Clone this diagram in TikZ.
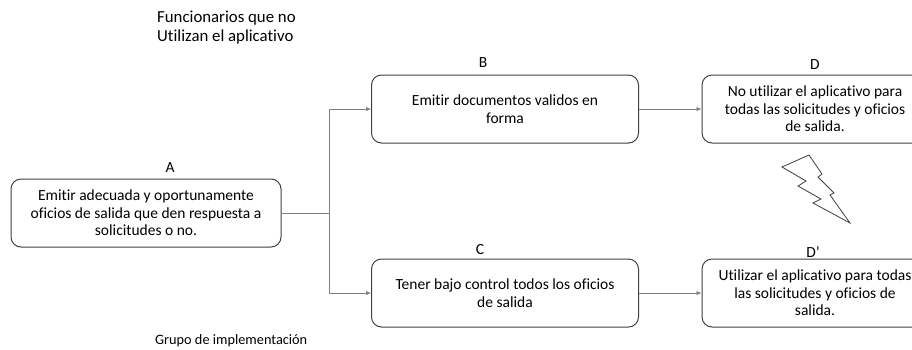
\documentclass[tikz,border=0pt]{standalone}
\usepackage{fontspec}
\setmainfont{Carlito}[Ligatures=NoCommon]
\usetikzlibrary{arrows.meta,positioning}
\definecolor{BordeGris}{HTML}{404040}
\definecolor{LineaGris}{HTML}{808080}

\tikzset{
  caja/.style={draw=BordeGris,rounded corners=10pt,line width=1pt,align=center,
    inner sep=0pt,minimum height=68pt},
  linea/.style={draw=LineaGris,line width=0.8pt},
  flecha/.style={linea,-{Latex[length=5pt,width=4.5pt]}},
  etiqueta/.style={inner sep=0pt},
}

\begin{document}
\begin{tikzpicture}[x=1pt,y=-1pt,font=\fontsize{15.5}{17.6}\selectfont]
  \clip (0,0) rectangle (912,349);
  \fill[white] (0,0) rectangle (912,349);
  % --- textos de los grupos ---
  \node[etiqueta,anchor=north west,align=left,font=\fontsize{16.8}{19.2}\selectfont] (grupo1) at (157,11)
    {Funcionarios que no\\Utilizan el aplicativo};
  \node[etiqueta,anchor=north west,font=\fontsize{14.3}{17.6}\selectfont] (grupo2) at (155,334)
    {Grupo de implementación};
  % --- cajas ---
  \node[caja,minimum width=270pt] (A) at (146,213)
    {Emitir adecuada y oportunamente\\oficios de salida que den respuesta a\\solicitudes o no.};
  \node[caja,minimum width=267pt] (B) at (505,109) {Emitir documentos validos en\\forma};
  \node[caja,minimum width=267pt] (C) at (505,293) {Tener bajo control todos los oficios\\de salida};
  \node[caja,minimum width=226pt] (D) at (815,109)
    {No utilizar el aplicativo para\\todas las solicitudes y oficios\\de salida.};
  \node[caja,minimum width=226pt] (Dp) at (815,293)
    {Utilizar el aplicativo para todas\\las solicitudes y oficios de\\salida.};
  % --- letras sobre las cajas ---
  \node[etiqueta] (labA) at (170,168) {A};
  \node[etiqueta] (labB) at (483,63) {B};
  \node[etiqueta] (labC) at (480,250) {C};
  \node[etiqueta] (labD) at (815,65) {D};
  \node[etiqueta] (labDp) at (813,252) {D’};
  % --- conectores ---
  \coordinate[right=48pt of A.east] (nudo);
  \draw[linea] (A.east) -- (nudo);
  \draw[flecha] (nudo) |- (B.west);
  \draw[flecha] (nudo) |- (C.west);
  \draw[flecha] (B.east) -- (D.west);
  \draw[flecha] (C.east) -- (Dp.west);
  % --- rayo entre D y D' ---
  \draw[BordeGris,line width=0.8pt,line join=miter] (782,167) -- (809,155) -- (822,174) -- (818,177)
    -- (834,193) -- (830,195) -- (850,223) -- (813,203) -- (821,199) -- (798,186)
    -- (806,181) -- cycle;
\end{tikzpicture}
\end{document}
